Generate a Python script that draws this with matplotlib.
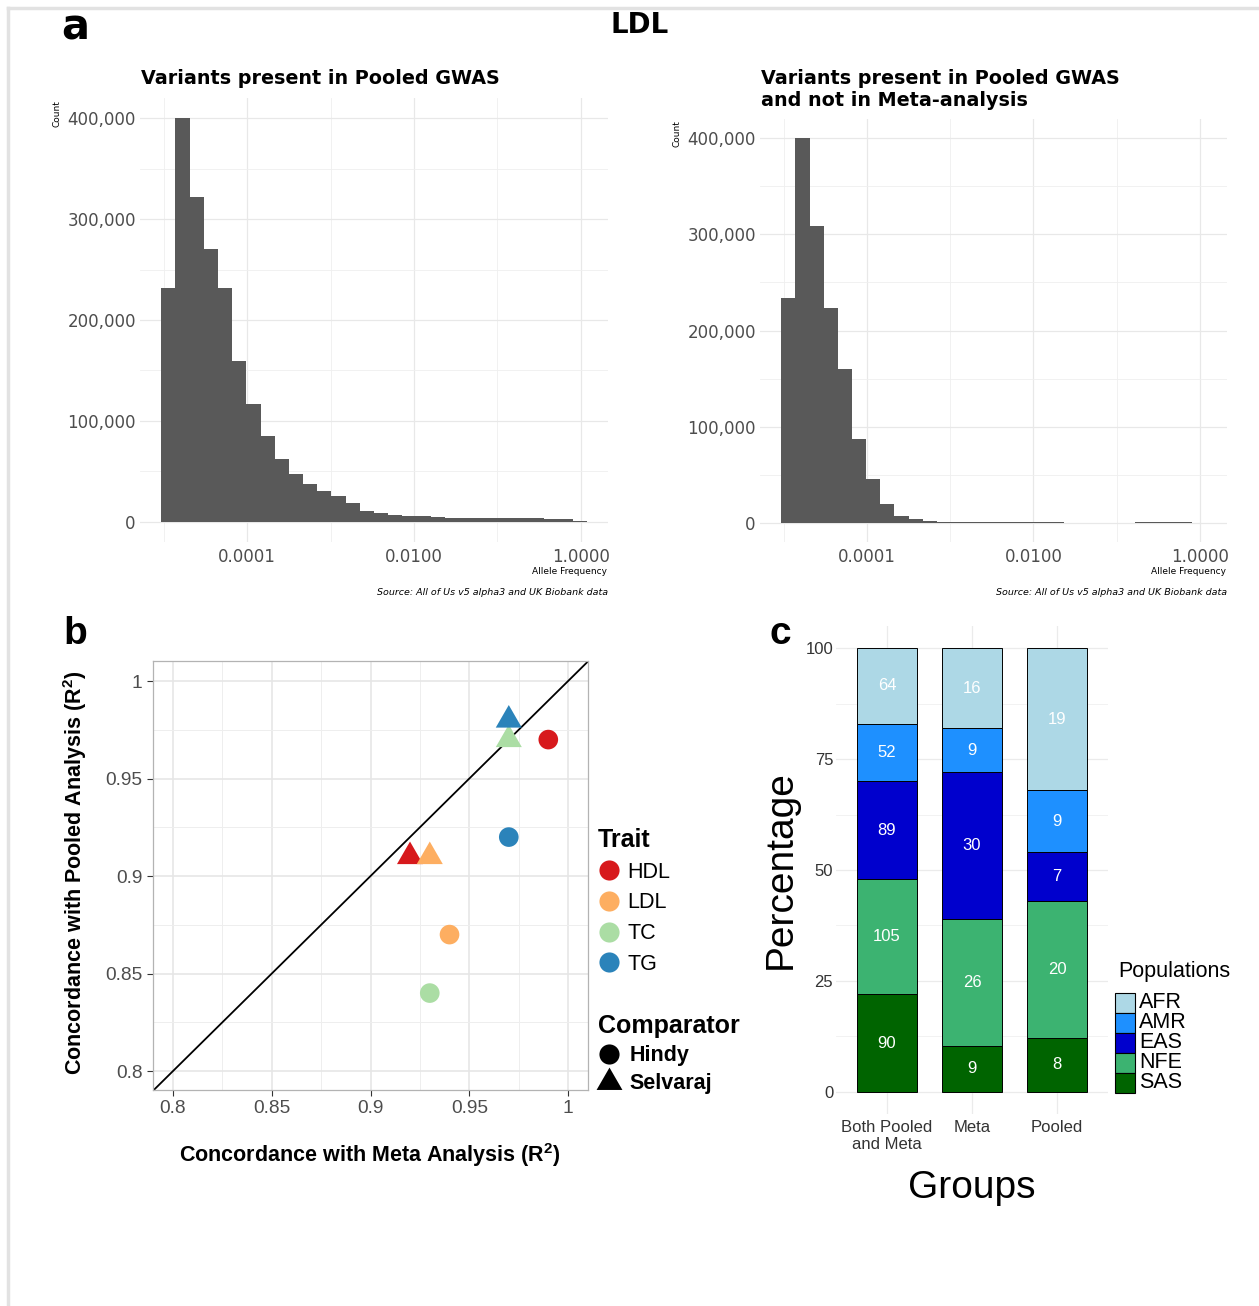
import numpy as np
import matplotlib.pyplot as plt
from matplotlib.lines import Line2D
from matplotlib.patches import Rectangle
from matplotlib.ticker import FixedLocator, FuncFormatter

# ---- data ----
# panel a: allele frequency histograms, 30 log-spaced bins
af_edges = np.logspace(-5.03, 0.07, 31)
counts_pooled = [232000, 400000, 322000, 270000, 232000, 159000, 117000, 85000, 62000, 47000,
                 37000, 31000, 25500, 19000, 11000, 8300, 7000, 6000, 5300, 4600,
                 4000, 3300, 3300, 3300, 4000, 4000, 3600, 3000, 3000, 1000]
counts_pooled_only = [234000, 400000, 309000, 223000, 160000, 87500, 46000, 20000, 7000, 3500,
                      1700, 900, 600, 600, 600, 400, 400, 400, 400, 400,
                      0, 0, 0, 0, 0, 500, 500, 500, 500, 0]

# panel b: concordance R^2
traits = ['HDL', 'LDL', 'TC', 'TG']
trait_colors = ['#d7191c', '#fdae61', '#abdda4', '#2b83ba']
hindy_meta = [0.99, 0.94, 0.93, 0.97]
hindy_pooled = [0.97, 0.87, 0.84, 0.92]
selvaraj_meta = [0.92, 0.93, 0.97, 0.97]
selvaraj_pooled = [0.91, 0.91, 0.97, 0.98]

# panel c: share (%) and count per population per group
groups = ['Both Pooled\nand Meta', 'Meta', 'Pooled']
pops = ['SAS', 'NFE', 'EAS', 'AMR', 'AFR']  # bottom to top
pop_colors = {'AFR': '#add8e6', 'AMR': '#1e90ff', 'EAS': '#0000cd',
              'NFE': '#3cb371', 'SAS': '#006400'}
pop_pct = {'SAS': [22.0, 10.3, 12.1], 'NFE': [26.0, 28.7, 30.9], 'EAS': [22.0, 33.0, 11.0],
           'AMR': [13.0, 9.9, 14.0], 'AFR': [17.0, 18.1, 32.0]}
pop_counts = {'SAS': [90, 9, 8], 'NFE': [105, 26, 20], 'EAS': [89, 30, 7],
              'AMR': [52, 9, 9], 'AFR': [64, 16, 19]}

W, H = 1259, 1306
def fx(px):
    return px / W
def fy(py):
    return 1 - py / H
def box(l, t, r, b):
    return [fx(l), fy(b), (r - l) / W, (b - t) / H]

plt.rcParams['mathtext.fontset'] = 'custom'
plt.rcParams['mathtext.rm'] = 'Liberation Sans'
plt.rcParams['mathtext.bf'] = 'Liberation Sans:bold'
plt.rcParams['mathtext.default'] = 'bf'

fig = plt.figure(figsize=(W / 100, H / 100), dpi=100)

# screenshot frame
fig.add_artist(Line2D([fx(8), fx(8)], [0, fy(8)], color='#e2e2e2', lw=2.5, transform=fig.transFigure))
fig.add_artist(Line2D([fx(8), 1], [fy(8), fy(8)], color='#e2e2e2', lw=2.5, transform=fig.transFigure))

narrow = ['Liberation Sans Narrow', 'DejaVu Sans']
fig.text(fx(75), fy(27), 'a', fontsize=30, fontweight='bold', family=narrow, ha='center', va='center')
fig.text(fx(640), fy(25), 'LDL', fontsize=20, fontweight='bold', family=narrow, ha='center', va='center')

# ---- panel a ----
def hist_panel(rect, counts, title, title_top, count_y, right_px):
    ax = fig.add_axes(rect)
    ax.bar(af_edges[:-1], counts, width=np.diff(af_edges), align='edge',
           color='#595959', linewidth=0)
    ax.set_xscale('log')
    ax.set_xlim(10 ** -5.285, 10 ** 0.325)
    ax.set_ylim(-20000, 420000)
    ax.xaxis.set_major_locator(FixedLocator([1e-4, 1e-2, 1]))
    ax.xaxis.set_minor_locator(FixedLocator([1e-5, 1e-3, 1e-1]))
    ax.xaxis.set_major_formatter(FuncFormatter(lambda v, p: f'{v:.4f}'))
    ax.xaxis.set_minor_formatter(FuncFormatter(lambda v, p: ''))
    ax.yaxis.set_major_locator(FixedLocator([0, 100000, 200000, 300000, 400000]))
    ax.yaxis.set_minor_locator(FixedLocator([50000, 150000, 250000, 350000]))
    ax.yaxis.set_major_formatter(FuncFormatter(lambda v, p: f'{int(v):,}'))
    ax.tick_params(which='both', length=0, labelsize=12, labelcolor='#4d4d4d')
    ax.tick_params(axis='x', pad=4)
    ax.tick_params(axis='y', pad=3)
    ax.grid(which='major', color='#e8e8e8', lw=0.9)
    ax.grid(which='minor', color='#efefef', lw=0.6)
    ax.set_axisbelow(True)
    for s in ax.spines.values():
        s.set_visible(False)
    left_px = rect[0] * W
    fig.text(fx(left_px + 1), fy(title_top), title, fontsize=13.8, fontweight='bold',
             ha='left', va='top', linespacing=1.2)
    fig.text(fx(left_px - 83), fy(count_y), 'Count', fontsize=6.5, rotation=90,
             ha='center', va='center')
    fig.text(fx(right_px), fy(571), 'Allele Frequency', fontsize=6.5, ha='right', va='center')
    fig.text(fx(right_px + 1), fy(592), 'Source: All of Us v5 alpha3 and UK Biobank data',
             fontsize=6.8, style='italic', ha='right', va='center')
    return ax

hist_panel(box(140, 98, 608, 542), counts_pooled,
           'Variants present in Pooled GWAS', 69, 114, 607)
hist_panel(box(760, 119, 1227, 542), counts_pooled_only,
           'Variants present in Pooled GWAS\nand not in Meta-analysis', 69, 134, 1226)

# ---- panel b ----
plt.rcParams['font.family'] = ['Liberation Sans', 'DejaVu Sans']
tri = [(-1, -0.577), (1, -0.577), (0, 1.155)]

axb = fig.add_axes(box(153, 661, 588, 1090))
axb.axline((0.8, 0.8), slope=1, color='black', lw=1.3, zorder=2)
axb.scatter(hindy_meta, hindy_pooled, c=trait_colors, marker='o', s=200, linewidths=0, zorder=3)
axb.scatter(selvaraj_meta, selvaraj_pooled, c=trait_colors, marker=tri, s=470, linewidths=0, zorder=3)
axb.set_xlim(0.7899, 1.0101)
axb.set_ylim(0.7903, 1.0103)
ticks_b = [0.8, 0.85, 0.9, 0.95, 1.0]
tick_lbls_b = ['0.8', '0.85', '0.9', '0.95', '1']
axb.set_xticks(ticks_b, tick_lbls_b)
axb.set_yticks(ticks_b, tick_lbls_b)
axb.set_xticks([0.825, 0.875, 0.925, 0.975], minor=True)
axb.set_yticks([0.825, 0.875, 0.925, 0.975], minor=True)
axb.tick_params(which='major', length=4, width=0.8, color='#333333', labelsize=13.8,
                labelcolor='#4d4d4d')
axb.tick_params(which='minor', length=0)
axb.grid(which='major', color='#e6e6e6', lw=1.2)
axb.grid(which='minor', color='#eeeeee', lw=0.7)
axb.set_axisbelow(True)
for s in axb.spines.values():
    s.set_color('#b3b3b3')
    s.set_linewidth(0.9)
fig.text(fx(370), fy(1155), r'Concordance with Meta Analysis ($\mathbf{R}^{2}$)', fontsize=15.5,
         fontweight='bold', ha='center', va='center')
fig.text(fx(75), fy(873), r'Concordance with Pooled Analysis ($\mathbf{R}^{2}$)', fontsize=15.5,
         fontweight='bold', ha='center', va='center', rotation=90)
fig.text(fx(75), fy(634), 'b', fontsize=28, fontweight='bold', ha='center', va='center')

trait_handles = [Line2D([], [], marker='o', ls='', ms=14.5, color=c, mew=0) for c in trait_colors]
leg1 = axb.legend(trait_handles, traits, title='Trait', loc='upper left',
                  bbox_to_anchor=(fx(598), fy(828)), bbox_transform=fig.transFigure,
                  frameon=False, fontsize=15.5, title_fontproperties={'weight': 'bold', 'size': 18},
                  alignment='left', borderpad=0, borderaxespad=0, handlelength=1.0,
                  handletextpad=0.35, labelspacing=0.45)
axb.add_artist(leg1)
comp_handles = [Line2D([], [], marker='o', ls='', ms=14.5, color='black', mew=0),
                Line2D([], [], marker=tri, ls='', ms=21.5, color='black', mew=0)]
axb.legend(comp_handles, ['Hindy', 'Selvaraj'], title='Comparator', loc='upper left',
           bbox_to_anchor=(fx(598), fy(1014)), bbox_transform=fig.transFigure,
           frameon=False, prop={'weight': 'bold', 'size': 15.5},
           title_fontproperties={'weight': 'bold', 'size': 18},
           alignment='left', borderpad=0, borderaxespad=0, handlelength=1.0,
           handletextpad=0.45, labelspacing=0.33)

# ---- panel c ----
axc = fig.add_axes(box(836, 626, 1108, 1114))
xpos = np.arange(len(groups))
bottom = np.zeros(len(groups))
for p in pops:
    pct = np.array(pop_pct[p])
    axc.bar(xpos, pct, bottom=bottom, width=0.7, color=pop_colors[p],
            edgecolor='black', linewidth=0.7, zorder=2)
    for x, b, h, v in zip(xpos, bottom, pct, pop_counts[p]):
        axc.text(x, b + h / 2, str(v), color='white', fontsize=12, ha='center', va='center', zorder=3)
    bottom += pct
axc.set_xlim(-0.6, len(groups) - 0.4)
axc.set_ylim(-5, 105)
axc.set_xticks(xpos, groups)
axc.set_yticks([0, 25, 50, 75, 100])
axc.set_yticks([12.5, 37.5, 62.5, 87.5], minor=True)
axc.tick_params(which='both', length=0, labelsize=12, labelcolor='#333333')
axc.tick_params(axis='y', pad=2)
axc.tick_params(axis='x', pad=4)
axc.grid(which='major', color='#ebebeb', lw=0.9)
axc.grid(which='minor', axis='y', color='#f0f0f0', lw=0.6)
axc.set_axisbelow(True)
for s in axc.spines.values():
    s.set_visible(False)
fig.text(fx(781), fy(870), 'Percentage', fontsize=28, rotation=90, ha='center', va='center')
fig.text(fx(972), fy(1188), 'Groups', fontsize=28, ha='center', va='center')
fig.text(fx(780), fy(634), 'c', fontsize=28, fontweight='bold', ha='center', va='center')

# populations legend: keys stacked without gaps, drawn in a pixel-scaled helper axes
lax = fig.add_axes(box(1110, 950, 1250, 1100))
lax.set_xlim(1110, 1250)
lax.set_ylim(1100, 950)
lax.axis('off')
lax.text(1118, 972, 'Populations', fontsize=15.5, ha='left', va='center')
for i, p in enumerate(pops[::-1]):
    top = 993 + 20 * i
    lax.add_patch(Rectangle((1115, top), 20, 20, facecolor=pop_colors[p],
                            edgecolor='black', linewidth=0.8))
    lax.text(1139, top + 10, p, fontsize=15.5, ha='left', va='center')

fig.savefig('out.png', dpi=100)
